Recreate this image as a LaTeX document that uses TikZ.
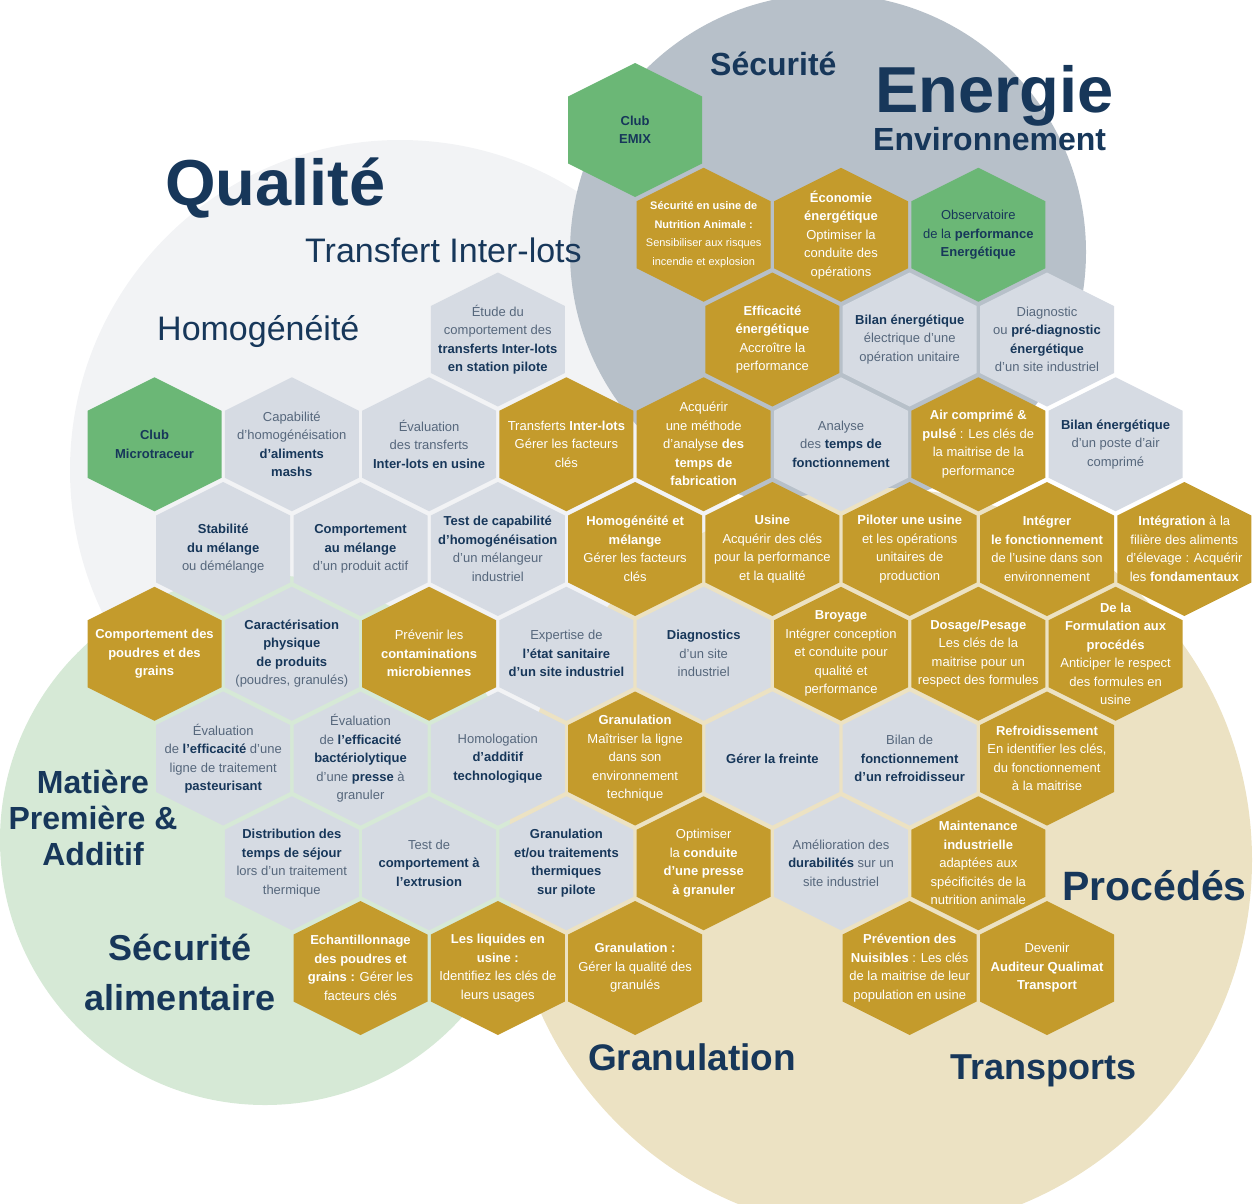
\documentclass[tikz,border=0pt]{standalone}
\usepackage{fontspec}
\setmainfont{Liberation Sans}
\usetikzlibrary{calc}

\definecolor{hexgold}{HTML}{C49B2C}
\definecolor{hexgrey}{HTML}{D6DBE3}
\definecolor{hexgreen}{HTML}{6BB776}
\definecolor{navy}{HTML}{17375A}
\definecolor{slate}{HTML}{56677C}
\definecolor{qualitebg}{HTML}{F2F3F5}
\definecolor{energiebg}{HTML}{B7C0C9}
\definecolor{matierebg}{HTML}{D6E9D6}
\definecolor{procedesbg}{HTML}{ECE2C3}

\newcommand{\cellfont}{\fontsize{13}{18.5}\selectfont}
\newcommand{\kw}[1]{\textbf{\color{kwcolor}#1}}
\newcommand{\hexa}[5][]{%
  \fill[#2cell] (#3) +(0,-67) -- +(67,-33.5) -- +(67,33.5) -- +(0,67) -- +(-67,33.5) -- +(-67,-33.5) -- cycle;
  \node[#2text, #1] (#4) at (#3) {#5};}

\tikzset{
  goldcell/.style={fill=hexgold},
  greycell/.style={fill=hexgrey},
  greencell/.style={fill=hexgreen},
  celltext/.style={align=center, inner sep=0pt, font=\cellfont},
  smalltext/.style={font=\fontsize{11}{18.5}\selectfont},
  goldtext/.style={celltext, text=white, execute at begin node={\colorlet{kwcolor}{white}}},
  greytext/.style={celltext, text=slate, execute at begin node={\colorlet{kwcolor}{navy}}},
  greentext/.style={celltext, text=navy, execute at begin node={\colorlet{kwcolor}{navy}}},
  title/.style={text=navy, inner sep=0pt, font=\bfseries}
}

\begin{document}
\begin{tikzpicture}[x=1pt, y=-1pt]
\useasboundingbox (0,0) rectangle (1253,1203);
\clip (0,0) rectangle (1253,1203);

\fill[qualitebg] (400,470) circle[radius=330];
\fill[energiebg] (828,252) circle[radius=258];
\fill[matierebg] (265,840) circle[radius=265];
\fill[procedesbg] (880,860) circle[radius=372];

\node[title, font=\fontsize{65}{70}\selectfont\bfseries, anchor=base west] (qualite) at (165,205) {Qualité};
\node[title, font=\fontsize{65}{70}\selectfont\bfseries, anchor=base west] (energie) at (875,112) {Energie};
\node[title, font=\fontsize{32}{36}\selectfont\bfseries, anchor=base west] (environnement) at (873,150) {Environnement};
\node[title, font=\fontsize{32}{36}\selectfont\bfseries, anchor=base west] (securite) at (710,75) {Sécurité};
\node[title, font=\fontsize{34}{36}\selectfont, anchor=base west] (interlots) at (305,262) {Transfert Inter-lots};
\node[title, font=\fontsize{34}{36}\selectfont, anchor=base west] (homogeneite) at (157,340) {Homogénéité};
\node[title, font=\fontsize{32}{36}\selectfont\bfseries, align=center] (matiere) at (93,818) {Matière\\Première \&\\Additif};
\node[title, font=\fontsize{36}{50}\selectfont\bfseries, align=center] (alimentaire) at (180,972) {Sécurité\\alimentaire};
\node[title, font=\fontsize{41}{44}\selectfont\bfseries, anchor=base west] (procedes) at (1062,900) {Procédés};
\node[title, font=\fontsize{37}{40}\selectfont\bfseries, anchor=base west] (granulation) at (588,1070) {Granulation};
\node[title, font=\fontsize{36}{40}\selectfont\bfseries, anchor=base west] (transports) at (950,1079) {Transports};

\hexa{green}{635.1,130}{emix}{\kw{Club}\\\kw{EMIX}}

\hexa[smalltext]{gold}{703.7,234.75}{secu}{\kw{Sécurité en usine de}\\\kw{Nutrition Animale :}\\Sensibiliser aux risques\\incendie et explosion}
\hexa{gold}{841.0,234.75}{eco}{\kw{Économie}\\\kw{énergétique}\\Optimiser la\\conduite des\\opérations}
\hexa{green}{978.3,234.75}{observ}{Observatoire\\de la \kw{performance}\\\kw{Energétique}}

\hexa{grey}{497.8,339.5}{etude}{Étude du\\comportement des\\\kw{transferts Inter-lots}\\\kw{en station pilote}}
\hexa{gold}{772.4,339.5}{effic}{\kw{Efficacité}\\\kw{énergétique}\\Accroître la\\performance}
\hexa{grey}{909.7,339.5}{bilanelec}{\kw{Bilan énergétique}\\électrique d'une\\opération unitaire}
\hexa{grey}{1047.0,339.5}{diagener}{Diagnostic\\ou \kw{pré-diagnostic}\\\kw{énergétique}\\d'un site industriel}

\hexa{green}{154.5,444.25}{microtr}{\kw{Club}\\\kw{Microtraceur}}
\hexa{grey}{291.8,444.25}{capab}{Capabilité\\d'homogénéisation\\\kw{d'aliments}\\\kw{mashs}}
\hexa{grey}{429.1,444.25}{evaltr}{Évaluation\\des transferts\\\kw{Inter-lots en usine}}
\hexa{gold}{566.4,444.25}{transf}{Transferts \kw{Inter-lots}\\Gérer les facteurs\\clés}
\hexa{gold}{703.7,444.25}{acquer}{Acquérir\\une méthode\\d'analyse \kw{des}\\\kw{temps de}\\\kw{fabrication}}
\hexa{grey}{841.0,444.25}{analyse}{Analyse\\des \kw{temps de}\\\kw{fonctionnement}}
\hexa{gold}{978.3,444.25}{aircomp}{\kw{Air comprimé \&}\\\kw{pulsé} : Les clés de\\la maitrise de la\\performance}
\hexa{grey}{1115.6,444.25}{bilanair}{\kw{Bilan énergétique}\\d'un poste d'air\\comprimé}

\hexa{grey}{223.2,549}{stab}{\kw{Stabilité}\\\kw{du mélange}\\ou démélange}
\hexa{grey}{360.5,549}{compmel}{\kw{Comportement}\\\kw{au mélange}\\d'un produit actif}
\hexa{grey}{497.8,549}{testcap}{\kw{Test de capabilité}\\\kw{d'homogénéisation}\\d'un mélangeur\\industriel}
\hexa{gold}{635.1,549}{homog}{\kw{Homogénéité et}\\\kw{mélange}\\Gérer les facteurs\\clés}
\hexa{gold}{772.4,549}{usine}{\kw{Usine}\\Acquérir des clés\\pour la performance\\et la qualité}
\hexa{gold}{909.7,549}{piloter}{\kw{Piloter une usine}\\et les opérations\\unitaires de\\production}
\hexa{gold}{1047.0,549}{integrer}{\kw{Intégrer}\\\kw{le fonctionnement}\\de l'usine dans son\\environnement}
\hexa{gold}{1184.3,549}{filiere}{\kw{Intégration} à la\\filière des aliments\\d'élevage : Acquérir\\les \kw{fondamentaux}}

\hexa{gold}{154.5,653.75}{poudres}{\kw{Comportement des}\\\kw{poudres et des}\\\kw{grains}}
\hexa{grey}{291.8,653.75}{caract}{\kw{Caractérisation}\\\kw{physique}\\\kw{de produits}\\(poudres, granulés)}
\hexa{gold}{429.1,653.75}{prevenir}{Prévenir les\\\kw{contaminations}\\\kw{microbiennes}}
\hexa{grey}{566.4,653.75}{expert}{Expertise de\\\kw{l'état sanitaire}\\\kw{d'un site industriel}}
\hexa{grey}{703.7,653.75}{diagsite}{\kw{Diagnostics}\\d'un site\\industriel}
\hexa{gold}{841.0,653.75}{broyage}{\kw{Broyage}\\Intégrer conception\\et conduite pour\\qualité et\\performance}
\hexa{gold}{978.3,653.75}{dosage}{\kw{Dosage/Pesage}\\Les clés de la\\maitrise pour un\\respect des formules}
\hexa{gold}{1115.6,653.75}{formul}{\kw{De la}\\\kw{Formulation aux}\\\kw{procédés}\\Anticiper le respect\\des formules en\\usine}

\hexa{grey}{223.2,758.5}{evalpast}{Évaluation\\de \kw{l'efficacité} d'une\\ligne de traitement\\\kw{pasteurisant}}
\hexa{grey}{360.5,758.5}{evalbact}{Évaluation\\de \kw{l'efficacité}\\\kw{bactériolytique}\\d'une \kw{presse} à\\granuler}
\hexa{grey}{497.8,758.5}{homolog}{Homologation\\\kw{d'additif}\\\kw{technologique}}
\hexa{gold}{635.1,758.5}{granlig}{\kw{Granulation}\\Maîtriser la ligne\\dans son\\environnement\\technique}
\hexa{grey}{772.4,758.5}{freinte}{\kw{Gérer la freinte}}
\hexa{grey}{909.7,758.5}{bilanref}{Bilan de\\\kw{fonctionnement}\\\kw{d'un refroidisseur}}
\hexa{gold}{1047.0,758.5}{refroid}{\kw{Refroidissement}\\En identifier les clés,\\du fonctionnement\\à la maitrise}

\hexa{grey}{291.8,863.25}{distrib}{\kw{Distribution des}\\\kw{temps de séjour}\\lors d'un traitement\\thermique}
\hexa{grey}{429.1,863.25}{extrus}{Test de\\\kw{comportement à}\\\kw{l'extrusion}}
\hexa{grey}{566.4,863.25}{granpil}{\kw{Granulation}\\\kw{et/ou traitements}\\\kw{thermiques}\\\kw{sur pilote}}
\hexa{gold}{703.7,863.25}{optim}{Optimiser\\la \kw{conduite}\\\kw{d'une presse}\\\kw{à granuler}}
\hexa{grey}{841.0,863.25}{durab}{Amélioration des\\\kw{durabilités} sur un\\site industriel}
\hexa{gold}{978.3,863.25}{mainten}{\kw{Maintenance}\\\kw{industrielle}\\adaptées aux\\spécificités de la\\nutrition animale}

\hexa{gold}{360.5,968}{echant}{\kw{Echantillonnage}\\\kw{des poudres et}\\\kw{grains :} Gérer les\\facteurs clés}
\hexa{gold}{497.8,968}{liquides}{\kw{Les liquides en}\\\kw{usine :}\\Identifiez les clés de\\leurs usages}
\hexa{gold}{635.1,968}{granqual}{\kw{Granulation :}\\Gérer la qualité des\\granulés}
\hexa{gold}{909.7,968}{nuisib}{\kw{Prévention des}\\\kw{Nuisibles} : Les clés\\de la maitrise de leur\\population en usine}
\hexa{gold}{1047.0,968}{auditeur}{Devenir\\\kw{Auditeur Qualimat}\\\kw{Transport}}
\end{tikzpicture}
\end{document}
